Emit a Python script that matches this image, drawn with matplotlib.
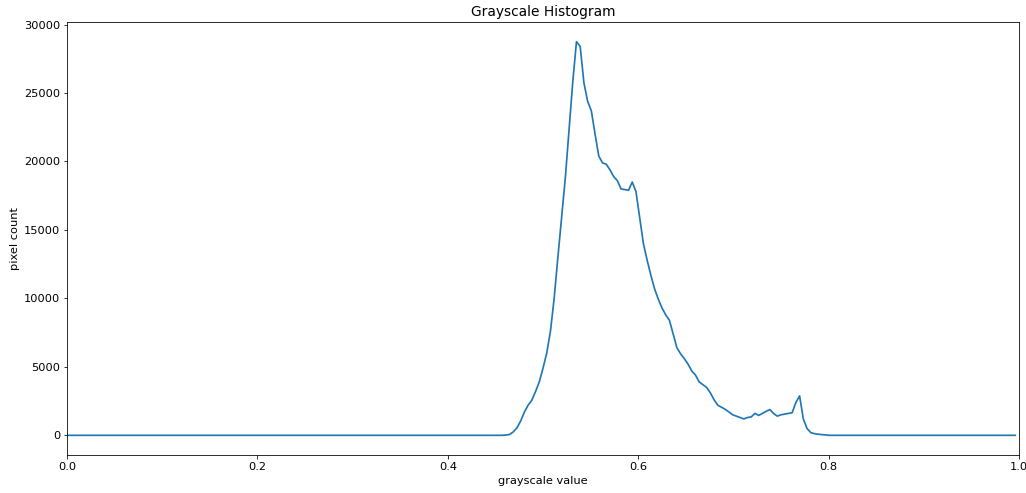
import numpy as np
import matplotlib
matplotlib.use("Agg")
import matplotlib.pyplot as plt

# 256-bin grayscale histogram over [0, 1]; only bins 118..204 are non-zero
n_bins = 256
first_bin = 118
counts_nonzero = [
    20, 60, 250, 550, 1050, 1700, 2200, 2570, 3200, 3900,
    4900, 6000, 7600, 10000, 13000, 15900, 18800, 22300, 25800, 28750,
    28400, 25750, 24400, 23700, 22000, 20400, 19900, 19800, 19400, 18900,
    18600, 17990, 17950, 17900, 18500, 17800, 15900, 14000, 12800, 11700,
    10700, 9950, 9300, 8800, 8400, 7400, 6400, 5950, 5600, 5200,
    4700, 4400, 3900, 3700, 3500, 3100, 2600, 2200, 2050, 1900,
    1700, 1500, 1400, 1300, 1200, 1300, 1350, 1600, 1450, 1600,
    1750, 1880, 1600, 1400, 1500, 1550, 1600, 1650, 2400, 2880,
    1200, 500, 200, 120, 80, 50, 30,
]

histogram = np.zeros(n_bins)
histogram[first_bin:first_bin + len(counts_nonzero)] = counts_nonzero
bin_edges = np.linspace(0, 1, n_bins + 1)

# reference looks like a slightly scaled-down render, so bump sizes a bit
plt.rcParams["font.size"] = 11.4
plt.rcParams["axes.titlesize"] = 13.7
plt.rcParams["lines.linewidth"] = 1.7

fig = plt.figure(figsize=(1026 / 72, 493 / 72), dpi=72)
ax = fig.add_axes([67 / 1026, 38 / 493, 952 / 1026, 433 / 493])

ax.plot(bin_edges[0:-1], histogram)
ax.set_title("Grayscale Histogram")
ax.set_xlabel("grayscale value")
ax.set_ylabel("pixel count")
ax.set_xlim([0.0, 1.0])

plt.savefig("out.png", dpi=72)
